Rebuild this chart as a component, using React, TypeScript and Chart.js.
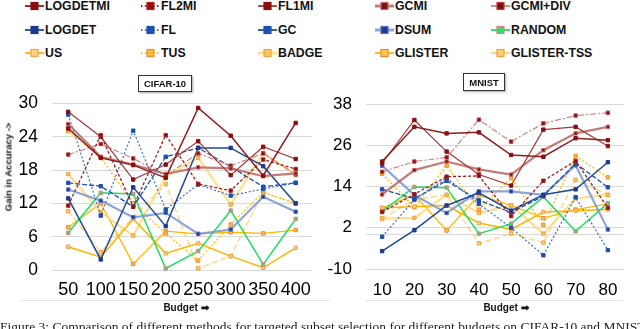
import React, { useEffect, useRef } from 'react';
import { Chart, registerables } from 'chart.js';
Chart.register(...registerables);

// ---------- data ----------
const SERIES = ['LOGDETMI', 'FL2MI', 'FL1MI', 'GCMI', 'GCMI+DIV', 'LOGDET', 'FL', 'GC', 'DSUM', 'RANDOM', 'US', 'TUS', 'BADGE', 'GLISTER', 'GLISTER-TSS'];

const CIFAR_BUDGETS = ['50', '100', '150', '200', '250', '300', '350', '400'];
const MNIST_BUDGETS = ['10', '20', '30', '40', '50', '60', '70', '80'];
const CIFAR_YTICKS = [0, 6, 12, 18, 24, 30];
const MNIST_YTICKS = [-10, 2, 14, 26, 38];

const C_LOGDETMI = [25.5, 20.2, 18.9, 16.6, 29.2, 24.2, 17.0, 26.5];
const C_FL2MI = [11.6, 24.3, 11.4, 24.3, 15.5, 14.3, 19.9, 18.2];
const C_FL1MI = [28.5, 24.0, 16.3, 19.0, 23.2, 17.1, 22.2, 20.0];
const C_GCMI = [26.3, 20.4, 19.0, 17.3, 18.5, 18.3, 16.9, 17.4];
const C_GCMIDIV = [20.8, 22.7, 20.1, 17.0, 21.0, 18.8, 21.0, 17.2];
const C_LOGDET = [12.9, 1.9, 14.9, 7.9, 22.0, 22.0, 18.7, 12.0];
const C_FL = [28.0, 9.8, 25.1, 10.9, 15.4, 13.4, 14.6, 15.7];
const C_GC = [15.7, 15.1, 11.4, 20.4, 22.0, 18.6, 15.0, 15.7];
const C_DSUM = [14.5, 12.5, 9.5, 10.3, 6.5, 7.3, 13.2, 10.5];
const C_RANDOM = [6.7, 13.9, 13.7, 0.3, 3.4, 10.7, 1.0, 9.2];
const C_US = [4.2, 2.3, 9.2, 3.0, 4.8, 2.5, 0.4, 4.0];
const C_TUS = [25.0, 20.3, 12.0, 6.6, 1.7, 8.2, 14.0, 12.0];
const C_BADGE = [17.3, 10.4, 6.2, 16.8, 20.2, 11.8, 21.1, 17.2];
const C_GLISTER = [7.7, 12.0, 1.1, 7.0, 6.5, 6.8, 6.6, 7.2];
const C_GLISTERTSS = [10.6, 3.2, 9.5, 15.5, 0.3, 2.5, 14.0, 12.0];

const M_LOGDETMI = [21.3, 31.4, 29.5, 29.8, 23.2, 22.7, 28.1, 27.5];
const M_FL2MI = [6.6, 11.8, 16.9, 17.1, 5.4, 15.7, 21.5, 7.8];
const M_FL1MI = [20.8, 33.4, 24.2, 17.5, 14.3, 30.6, 31.4, 25.8];
const M_GCMI = [11.7, 18.8, 21.3, 19.0, 17.5, 24.6, 29.5, 31.4];
const M_GCMIDIV = [18.3, 21.3, 22.5, 33.5, 27.1, 32.4, 34.7, 35.5];
const M_LOGDET = [-4.8, 1.3, 8.5, 12.2, 7.0, 11.6, 13.2, 21.1];
const M_FL = [-0.6, 10.2, 16.5, 9.0, 2.0, -6.0, 10.9, -4.5];
const M_GC = [13.2, 10.5, 15.7, 10.0, 6.5, 11.2, 20.8, 13.8];
const M_DSUM = [20.1, 11.5, 6.3, 12.6, 12.6, 11.6, 20.2, 1.5];
const M_RANDOM = [6.8, 13.9, 13.7, 0.3, 3.2, 11.0, 1.0, 9.2];
const M_US = [7.8, 8.2, 8.5, 3.4, 1.5, 6.6, 7.0, 7.3];
const M_TUS = [17.7, 8.0, 20.1, 7.3, 16.5, 2.8, 22.9, 16.7];
const M_BADGE = [4.7, 4.9, 11.6, 6.3, 8.5, 0.3, 10.6, 11.6];
const M_GLISTER = [7.8, 11.6, 1.2, 11.5, 8.5, 4.8, 7.3, 9.0];
const M_GLISTERTSS = [4.7, 10.2, 11.6, -2.5, 0.3, -2.3, 16.0, 11.6];

const CIFAR_VALUES = [C_LOGDETMI, C_FL2MI, C_FL1MI, C_GCMI, C_GCMIDIV, C_LOGDET, C_FL, C_GC, C_DSUM, C_RANDOM, C_US, C_TUS, C_BADGE, C_GLISTER, C_GLISTERTSS];
const MNIST_VALUES = [M_LOGDETMI, M_FL2MI, M_FL1MI, M_GCMI, M_GCMIDIV, M_LOGDET, M_FL, M_GC, M_DSUM, M_RANDOM, M_US, M_TUS, M_BADGE, M_GLISTER, M_GLISTERTSS];

// ---------- styles ----------
type Sty = { line: string; w: number; dash: number[]; fill: string; edge: string; legDash: number[] };
const STYLES: Record<string, Sty> = {
  'LOGDETMI': { line: '#8E1B1B', w: 1.5, dash: [], fill: '#8B0F0F', edge: '#8B0F0F', legDash: [] },
  'FL2MI': { line: '#9B2020', w: 1.3, dash: [3, 2], fill: '#8B0F0F', edge: '#B02020', legDash: [1.5, 2.5] },
  'FL1MI': { line: '#A33A3A', w: 1.2, dash: [], fill: '#8B0F0F', edge: '#8B0F0F', legDash: [] },
  'GCMI': { line: 'rgba(185,100,95,0.85)', w: 2.2, dash: [], fill: '#6E1A10', edge: '#D06060', legDash: [] },
  'GCMI+DIV': { line: 'rgba(200,120,115,0.9)', w: 1.2, dash: [6, 2, 2, 2], fill: '#7B1010', edge: '#C04040', legDash: [] },
  'LOGDET': { line: '#1F4A9A', w: 1.5, dash: [], fill: '#1F3A8A', edge: '#1F3A8A', legDash: [] },
  'FL': { line: '#3A6CC8', w: 1.2, dash: [2, 2], fill: '#1E50B0', edge: '#1E50B0', legDash: [1.5, 2.5] },
  'GC': { line: '#2050A8', w: 1.3, dash: [5, 2], fill: '#1E50B0', edge: '#1E50B0', legDash: [] },
  'DSUM': { line: 'rgba(120,150,210,0.85)', w: 2.2, dash: [], fill: '#1F3A8A', edge: '#5070C0', legDash: [] },
  'RANDOM': { line: '#1EE060', w: 1.5, dash: [], fill: '#30E070', edge: '#E08080', legDash: [] },
  'US': { line: '#FFB300', w: 1.5, dash: [], fill: '#FFD27F', edge: '#F0A050', legDash: [] },
  'TUS': { line: '#FFC000', w: 1.3, dash: [2, 2], fill: '#FFB840', edge: '#F09030', legDash: [1.5, 2.5] },
  'BADGE': { line: 'rgba(255,220,130,0.9)', w: 2.2, dash: [], fill: '#F8C860', edge: '#F0A040', legDash: [] },
  'GLISTER': { line: '#FFB800', w: 1.3, dash: [], fill: '#FFC850', edge: '#F08030', legDash: [] },
  'GLISTER-TSS': { line: 'rgba(255,205,110,0.9)', w: 1.3, dash: [6, 3], fill: '#FFD070', edge: '#F0A040', legDash: [] },
};

const FONT = "'Liberation Sans', Arial, sans-serif";

type PanelProps = {
  left: number; top: number; width: number; height: number;
  labels: string[]; values: number[][]; yticks: number[];
  yWidth: number; xHeight: number; pad: { top: number; right: number };
  xFont: number; yFont: number; xPad: number; zeroLine: boolean;
};

function Panel(p: PanelProps) {
  const ref = useRef<HTMLCanvasElement | null>(null);
  useEffect(() => {
    if (!ref.current) return;
    const datasets = SERIES.map((name, i) => {
      const s = STYLES[name];
      return {
        label: name,
        data: p.values[i],
        borderColor: s.line,
        borderWidth: s.w,
        borderDash: s.dash,
        backgroundColor: s.fill,
        pointBackgroundColor: s.fill,
        pointBorderColor: s.edge,
        pointBorderWidth: 1,
        pointStyle: 'rect',
        pointRadius: 2.4,
        tension: 0,
        fill: false,
        clip: false as any,
      };
    });
    const ymin = p.yticks[0];
    const ymax = p.yticks[p.yticks.length - 1];
    const chart = new Chart(ref.current, {
      type: 'line',
      data: { labels: p.labels, datasets },
      options: {
        animation: false,
        responsive: true,
        maintainAspectRatio: false,
        layout: { padding: { top: p.pad.top, right: p.pad.right, left: 0, bottom: 0 } },
        plugins: { legend: { display: false }, tooltip: { enabled: false } },
        scales: {
          x: {
            type: 'category',
            offset: true,
            grid: { display: false, drawTicks: false },
            border: { display: false },
            ticks: { autoSkip: false, maxRotation: 0, color: '#000', padding: p.xPad, font: { family: FONT, size: p.xFont } },
            afterFit: (sc: any) => { sc.height = p.xHeight; },
          },
          y: {
            min: ymin,
            max: ymax,
            grid: { color: '#D9D9D9', lineWidth: 1, drawTicks: false },
            border: { display: false },
            ticks: {
              color: '#000', padding: 14, font: { family: FONT, size: p.yFont },
              callback: (v: any) => (p.yticks.includes(Number(v)) ? String(v) : ''),
            },
            afterBuildTicks: (sc: any) => {
              const t = p.yticks.map((v) => ({ value: v }));
              if (p.zeroLine) t.push({ value: 0 });
              t.sort((a, b) => a.value - b.value);
              sc.ticks = t;
            },
            afterFit: (sc: any) => { sc.width = p.yWidth; },
          },
        },
      } as any,
    });
    return () => chart.destroy();
  }, []);
  return (
    <div style={{ position: 'absolute', left: p.left, top: p.top, width: p.width, height: p.height }}>
      <canvas ref={ref} />
    </div>
  );
}

function LegendItem({ name, x, y }: { name: string; x: number; y: number }) {
  const s = STYLES[name];
  const thick = s.w > 2;
  return (
    <div style={{ position: 'absolute', left: x, top: y - 8, height: 16, display: 'flex', alignItems: 'center' }}>
      <svg width={19} height={12} style={{ display: 'block' }}>
        <line x1={0} y1={6} x2={19} y2={6} stroke={s.line} strokeWidth={thick ? 3 : 1.8}
          strokeDasharray={s.legDash.length ? s.legDash.join(',') : undefined} />
        <rect x={6} y={2.5} width={7} height={7} fill={s.fill} stroke={s.edge} strokeWidth={1.2} />
      </svg>
      <span style={{ fontFamily: FONT, fontWeight: 'bold', fontSize: 12.3, color: '#111', marginLeft: 1, whiteSpace: 'nowrap' }}>{name}</span>
    </div>
  );
}

const LEG_X = [25, 141, 258, 375, 491];
const LEG_Y = [6, 29.5, 53];

export default function App() {
  useEffect(() => { document.body.style.margin = '0'; }, []);
  return (
    <div style={{ position: 'fixed', left: 0, top: 0, width: 640, height: 329, overflow: 'hidden', background: '#fff' }}>
      {SERIES.map((n, i) => (
        <LegendItem key={n} name={n} x={LEG_X[i % 5]} y={LEG_Y[Math.floor(i / 5)]} />
      ))}
      <div style={{ position: 'absolute', left: 138, top: 75, width: 54, height: 17, border: '1px solid #333', boxShadow: '1px 1px 2px rgba(0,0,0,0.35)', display: 'flex', alignItems: 'center', justifyContent: 'center', fontFamily: FONT, fontWeight: 'bold', fontSize: 9.5, color: '#111', boxSizing: 'border-box', background: '#fff', zIndex: 2 }}>CIFAR-10</div>
      <div style={{ position: 'absolute', left: 463, top: 73, width: 42, height: 18, border: '1px solid #333', boxShadow: '1px 1px 2px rgba(0,0,0,0.35)', display: 'flex', alignItems: 'center', justifyContent: 'center', fontFamily: FONT, fontWeight: 'bold', fontSize: 9.5, color: '#111', boxSizing: 'border-box', background: '#fff', zIndex: 2 }}>MNIST</div>

      <Panel left={0} top={79} width={320} height={236} labels={CIFAR_BUDGETS} values={CIFAR_VALUES} yticks={CIFAR_YTICKS}
        yWidth={52} xHeight={45} pad={{ top: 0, right: 4 }} xFont={18} yFont={17.5} xPad={9} zeroLine={false} />
      <Panel left={320} top={80} width={320} height={235} labels={MNIST_BUDGETS} values={MNIST_VALUES} yticks={MNIST_YTICKS}
        yWidth={46} xHeight={46} pad={{ top: 0, right: 16 }} xFont={17} yFont={17} xPad={11} zeroLine={true} />

      <div style={{ position: 'absolute', left: 20, top: 300, width: 310, height: 1, background: '#E4E4E4' }} />
      <div style={{ position: 'absolute', left: 365, top: 300, width: 258, height: 1, background: '#E4E4E4' }} />

      <div style={{ position: 'absolute', left: 8, top: 167, width: 0, height: 0 }}>
        <div style={{ position: 'absolute', transform: 'translate(-50%,-50%) rotate(-90deg)', fontFamily: FONT, fontWeight: 'bold', fontSize: 9.5, color: '#111', whiteSpace: 'nowrap' }}>Gain in Accuracy -&gt;</div>
      </div>
      <div style={{ position: 'absolute', left: 186, top: 307, width: 0, height: 0 }}>
        <div style={{ position: 'absolute', transform: 'translate(-50%,-50%)', fontFamily: FONT, fontWeight: 'bold', fontSize: 10, color: '#111', whiteSpace: 'nowrap' }}>Budget ➡</div>
      </div>
      <div style={{ position: 'absolute', left: 506, top: 307, width: 0, height: 0 }}>
        <div style={{ position: 'absolute', transform: 'translate(-50%,-50%)', fontFamily: FONT, fontWeight: 'bold', fontSize: 10, color: '#111', whiteSpace: 'nowrap' }}>Budget ➡</div>
      </div>
      <div style={{ position: 'absolute', left: 0, top: 319, fontFamily: "'Liberation Serif', 'Times New Roman', serif", fontSize: 13.5, color: '#222', whiteSpace: 'nowrap' }}>
        Figure 3: Comparison of different methods for targeted subset selection for different budgets on CIFAR-10 and MNIST
      </div>
    </div>
  );
}
